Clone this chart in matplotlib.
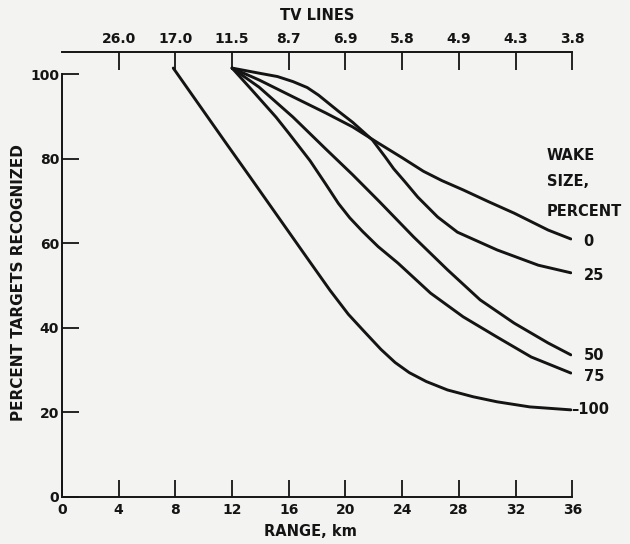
import matplotlib
matplotlib.use('Agg')
import matplotlib.pyplot as plt

plt.rcParams['font.family'] = ['DejaVu Sans']
plt.rcParams['font.weight'] = 'bold'
plt.rcParams['axes.labelweight'] = 'bold'

# range (km) vs percent of targets recognized, one curve per wake size
wake_sizes = ['0', '25', '50', '75', '100']

range_0 = [12.0, 13.9, 16.3, 18.6, 20.5, 22.3, 24.0, 25.5, 26.8, 28.3, 30.1,
           31.9, 34.3, 35.9]
pct_0 = [101.4, 98.6, 94.6, 90.8, 87.5, 83.7, 80.2, 77.0, 74.8, 72.6, 69.8,
         67.1, 63.1, 61.0]

range_25 = [12.0, 13.9, 15.2, 16.3, 17.3, 18.1, 19.5, 20.5, 21.9, 22.8, 23.4,
            24.2, 25.1, 26.5, 27.9, 30.7, 33.6, 35.9]
pct_25 = [101.4, 100.2, 99.4, 98.2, 96.8, 95.0, 91.2, 88.6, 84.4, 80.4, 77.6,
          74.5, 70.9, 66.2, 62.6, 58.4, 54.8, 53.0]

range_50 = [12.0, 13.9, 16.3, 18.6, 20.5, 22.4, 24.8, 27.2, 29.5, 31.9, 34.3,
            35.9]
pct_50 = [101.4, 96.9, 89.8, 82.3, 76.2, 69.8, 61.5, 53.7, 46.6, 41.1, 36.4,
          33.6]

range_75 = [12.0, 13.4, 15.1, 16.0, 17.5, 18.6, 19.5, 20.3, 21.2, 22.3, 23.7,
            26.0, 28.3, 30.7, 33.1, 35.9]
pct_75 = [101.4, 96.2, 89.8, 86.0, 79.5, 74.0, 69.4, 66.0, 62.8, 59.2, 55.3,
          48.2, 42.6, 37.8, 33.1, 29.3]

range_100 = [7.85, 11.5, 13.3, 17.4, 18.9, 20.2, 21.3, 22.5, 23.5, 24.5, 25.7,
             27.2, 29.0, 30.7, 33.0, 35.9]
pct_100 = [101.4, 84.0, 75.5, 56.0, 48.9, 43.2, 39.2, 34.9, 31.8, 29.4, 27.3,
           25.3, 23.7, 22.5, 21.3, 20.6]

range_ticks = [0, 4, 8, 12, 16, 20, 24, 28, 32, 36]
pct_ticks = [0, 20, 40, 60, 80, 100]
tv_ticks = [4, 8, 12, 16, 20, 24, 28, 32, 36]
tv_labels = ['26.0', '17.0', '11.5', '8.7', '6.9', '5.8', '4.9', '4.3', '3.8']

ink = '#141414'
paper = '#f3f3f1'

fig = plt.figure(figsize=(6.3, 5.44), dpi=100, facecolor=paper)
ax = fig.add_axes([0.0984, 0.0864, 0.81, 0.818])
ax.set_facecolor('none')

curves = [(range_0, pct_0), (range_25, pct_25), (range_50, pct_50),
          (range_75, pct_75), (range_100, pct_100)]
for xs, ys in curves:
    ax.plot(xs, ys, color=ink, lw=2.1, solid_joinstyle='round',
            solid_capstyle='round')

# wake size labels at the right-hand ends
label_y = {'0': 60.3, '25': 52.3, '50': 33.5, '75': 28.6, '100': 20.6}
for w in wake_sizes:
    if w == '100':
        ax.text(35.9, label_y[w], '\u2013100', fontsize=10.5, color=ink,
                ha='left', va='center', clip_on=False)
    else:
        ax.text(36.8, label_y[w], w, fontsize=10.5, color=ink,
                ha='left', va='center', clip_on=False)
ax.text(34.2, 80.8, 'WAKE', fontsize=10.5, color=ink, ha='left', va='center')
ax.text(34.2, 74.5, 'SIZE,', fontsize=10.5, color=ink, ha='left', va='center')
ax.text(34.2, 67.4, 'PERCENT', fontsize=10.5, color=ink, ha='left',
        va='center', clip_on=False)

ax.set_xlim(0, 36)
ax.set_ylim(0, 105.2)
ax.spines['right'].set_visible(False)
ax.spines['top'].set_visible(False)
ax.spines['left'].set_bounds(0, 100)
for s in ['left', 'bottom']:
    ax.spines[s].set_color(ink)
    ax.spines[s].set_linewidth(1.4)

ax.set_xticks(range_ticks)
ax.set_yticks(pct_ticks)
ax.tick_params(direction='in', length=12, width=1.3, color=ink,
               labelsize=10, labelcolor=ink)
ax.tick_params(axis='x', pad=4)
ax.tick_params(axis='y', pad=2)

ax.set_xlabel('RANGE, km', fontsize=10.5, color=ink)
ax.xaxis.set_label_coords(0.486, -0.06)
ax.set_ylabel('PERCENT TARGETS RECOGNIZED', fontsize=11, color=ink)
ax.yaxis.set_label_coords(-0.07, 0.481)

# TV lines scale along the top
top = ax.secondary_xaxis('top')
top.set_xticks(tv_ticks, labels=tv_labels)
top.tick_params(direction='in', length=13, width=1.3, color=ink,
                labelsize=10, labelcolor=ink, pad=4)
top.spines['top'].set_color(ink)
top.spines['top'].set_linewidth(1.4)
top.set_xlabel('TV LINES', fontsize=10.5, color=ink, labelpad=9)

fig.savefig('out.png', dpi=100, facecolor=paper)
